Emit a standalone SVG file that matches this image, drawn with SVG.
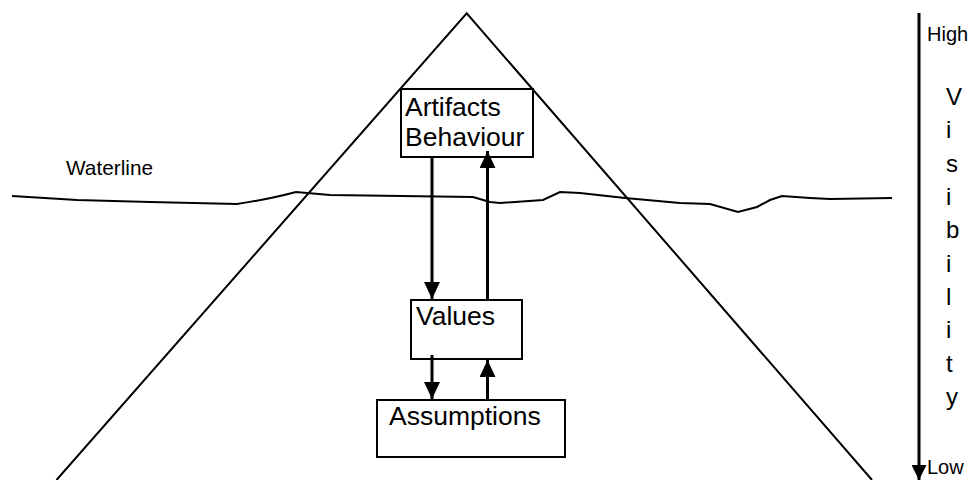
<svg xmlns="http://www.w3.org/2000/svg" width="971" height="480" viewBox="0 0 971 480">
<defs>
<style>
text{font-family:"Liberation Sans",Arial,sans-serif;fill:#000}
.box{fill:#fff;stroke:#000;stroke-width:2}
.lbl{font-size:26.5px}
.thin{fill:none;stroke:#000;stroke-width:2}
.arr{fill:none;stroke:#000;stroke-width:3}
.vis{font-size:24px}
.sm{font-size:20px}
</style>
<marker id="ah" viewBox="0 0 17 16" refX="17" refY="8" markerWidth="17" markerHeight="16" markerUnits="userSpaceOnUse" orient="auto">
<path d="M0,0 L17,8 L0,16 Z" fill="#000"/>
</marker>
<marker id="ahs" viewBox="0 0 15 15" refX="15" refY="7.5" markerWidth="15" markerHeight="15" markerUnits="userSpaceOnUse" orient="auto">
<path d="M0,0 L15,7.5 L0,15 Z" fill="#000"/>
</marker>
</defs>
<rect width="971" height="480" fill="#fff"/>
<g id="triangle">
<polyline class="thin" points="56.5,480 466.7,13.3 872,480"/>
</g>
<g id="waterline">
<path class="thin" d="M12,196 L77,200 L150,202 L237,204 Q270,199 296,192 L330,195 L473,197 L490,202 L500,203 L543,200 L560,192 L580,193 L625,198 L680,203 L710,204 L738,212 L757,207 L770,200 L782,196 L810,198 L830,199 L892,198"/>
<text x="66" y="175" style="font-size:20.8px">Waterline</text>
</g>
<g id="artifacts">
<rect class="box" x="401" y="89" width="132" height="68"/>
<text class="lbl" x="405" y="116">Artifacts</text>
<text class="lbl" x="405" y="146">Behaviour</text>
</g>
<g id="values">
<rect class="box" x="411" y="300" width="111" height="59"/>
<text class="lbl" x="416" y="325">Values</text>
</g>
<g id="assumptions">
<rect class="box" x="377" y="400" width="188" height="57"/>
<text class="lbl" x="389" y="425">Assumptions</text>
</g>
<g id="connectors">
<line class="arr" x1="432" y1="157" x2="432" y2="299" marker-end="url(#ah)"/>
<line class="arr" x1="487.5" y1="300" x2="487.5" y2="151" marker-end="url(#ah)"/>
<line class="arr" x1="432" y1="355" x2="432" y2="399" marker-end="url(#ah)"/>
<line class="arr" x1="487.5" y1="400" x2="487.5" y2="360" marker-end="url(#ah)"/>
</g>
<g id="visibility">
<line class="arr" x1="919" y1="13" x2="919" y2="480" marker-end="url(#ahs)"/>
<text class="sm" x="927" y="41">High</text>
<text class="sm" x="927" y="474">Low</text>
<text class="vis" x="946" y="105">V</text>
<text class="vis" x="946" y="138.3">i</text>
<text class="vis" x="946" y="171.7">s</text>
<text class="vis" x="946" y="205">i</text>
<text class="vis" x="946" y="238.3">b</text>
<text class="vis" x="946" y="271.7">i</text>
<text class="vis" x="946" y="305">l</text>
<text class="vis" x="946" y="338.3">i</text>
<text class="vis" x="946" y="371.7">t</text>
<text class="vis" x="946" y="405">y</text>
</g>
</svg>
